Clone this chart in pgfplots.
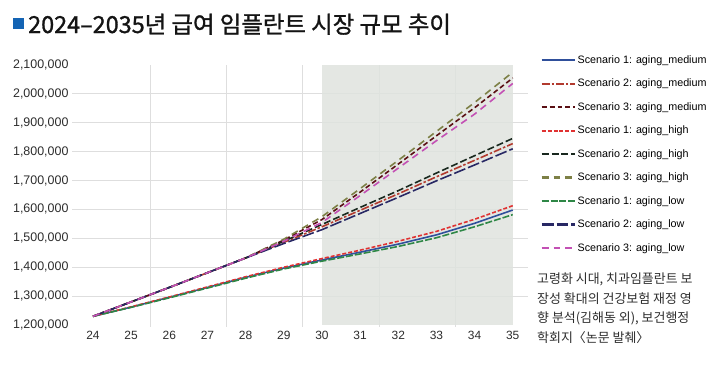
\documentclass[border=0pt]{standalone}
\usepackage{fontspec}
\setmainfont{Liberation Sans}
\newfontfamily\kr{Noto Sans CJK KR}
\newfontfamily\krt{Noto Sans CJK KR}[FakeBold=1.2]
\usepackage{pgfplots}
\pgfplotsset{compat=1.18}
\definecolor{titleblue}{RGB}{20,100,180}
\definecolor{ticktxt}{RGB}{45,45,45}
\definecolor{gridc}{RGB}{222,222,222}
\definecolor{shadec}{RGB}{223,227,222}
\definecolor{cA}{RGB}{47,79,155}
\definecolor{cB}{RGB}{178,58,46}
\definecolor{cC}{RGB}{90,15,20}
\definecolor{cD}{RGB}{224,50,50}
\definecolor{cE}{RGB}{25,40,30}
\definecolor{cF}{RGB}{125,128,70}
\definecolor{cG}{RGB}{46,135,70}
\definecolor{cH}{RGB}{40,40,100}
\definecolor{cI}{RGB}{195,80,180}
\begin{document}
\begin{tikzpicture}[x=1bp,y=1bp]
\useasboundingbox (0,0) rectangle (714,381);
\fill[titleblue] (12.5,352) rectangle (23.5,363);
\node[anchor=base west, inner sep=0, font=\krt\fontsize{23.5}{23.5}\selectfont, text={rgb,255:red,20;green,20;blue,20}] at (28,348) {2024–2035년 급여 임플란트 시장 규모 추이};
\node[anchor=north west, align=left, inner sep=0, text=ticktxt, font=\kr\fontsize{13}{19.5}\selectfont] at (537,108) {고령화 시대, 치과임플란트 보\\장성 확대의 건강보험 재정 영\\향 분석(김해동 외), 보건행정\\학회지〈논문 발췌〉};
\begin{axis}[
  at={(72bp,56bp)}, anchor=south west, scale only axis,
  width=456bp, height=260bp,
  xmin=23.45, xmax=35.4, ymin=1200000, ymax=2100000,
  axis line style={draw=none}, major tick length=0pt,
  scaled y ticks=false, scaled x ticks=false,
  xtick={24,25,26,27,28,29,30,31,32,33,34,35},
  ytick={1200000,1300000,1400000,1500000,1600000,1700000,1800000,1900000,2000000,2100000},
  yticklabels={{1,200,000},{1,300,000},{1,400,000},{1,500,000},{1,600,000},{1,700,000},{1,800,000},{1,900,000},{2,000,000},{2,100,000}},
  xticklabels={24,25,26,27,28,29,30,31,32,33,34,35},
  xticklabel style={font=\fontsize{12}{12}\selectfont, text=ticktxt, yshift=-3bp},
  yticklabel style={font=\fontsize{12.5}{12.5}\selectfont, text=ticktxt},
  legend style={at={(1.027,1.045)}, anchor=north west, draw=none, fill=none,
    font=\fontsize{10.8}{12}\selectfont, row sep=10.2bp, inner sep=0pt},
  legend cell align=left,
  legend image code/.code={\draw[#1, line width=2.1pt] (0bp,0bp) -- (33bp,0bp);},
  every axis plot/.append style={line width=1.6pt},
  clip=false,
]
% grid
\foreach \yy in {1300000,1400000,1500000,1600000,1700000,1800000,1900000,2000000}{
  \edef\tmp{\noexpand\draw[gridc, line width=0.8pt] (axis cs:23.45,\yy) -- (axis cs:35.4,\yy);}\tmp
}
\foreach \xx in {25.5,27.5,29.5,31.5,33.5}{
  \edef\tmp{\noexpand\draw[gridc, line width=0.8pt] (axis cs:\xx,1194000) -- (axis cs:\xx,2100000);}\tmp
}
\fill[shadec, fill opacity=0.85] (axis cs:30,1200000) rectangle (axis cs:35,2100000);
% Scenario 1: aging_medium
\addplot[cA, solid] coordinates {(24,1230000)(25,1262000)(26,1296000)(27,1330000)(28,1365000)(29,1397000)(30,1425000)(31,1452000)(32,1480000)(33,1512000)(34,1552000)(35,1598000)};
\addlegendentry{Scenario 1: aging\_medium}
% Scenario 2: aging_medium
\addplot[cB, dash pattern=on 8pt off 2pt on 2.5pt off 2pt] coordinates {(24,1230000)(25,1280000)(26,1330000)(27,1381000)(28,1432000)(29,1486000)(30,1540000)(31,1597000)(32,1654000)(33,1713000)(34,1770000)(35,1828000)};
\addlegendentry{Scenario 2: aging\_medium}
% Scenario 3: aging_medium
\addplot[cC, dash pattern=on 5pt off 3pt] coordinates {(24,1230000)(25,1280000)(26,1330000)(27,1381000)(28,1432000)(29,1494000)(30,1565000)(31,1660000)(32,1757000)(33,1855000)(34,1952000)(35,2055000)};
\addlegendentry{Scenario 3: aging\_medium}
% Scenario 1: aging_high
\addplot[cD, dash pattern=on 4pt off 2pt] coordinates {(24,1230000)(25,1263000)(26,1297000)(27,1332000)(28,1367000)(29,1400000)(30,1430000)(31,1459000)(32,1490000)(33,1524000)(34,1566000)(35,1613000)};
\addlegendentry{Scenario 1: aging\_high}
% Scenario 2: aging_high
\addplot[cE, dash pattern=on 7pt off 3pt] coordinates {(24,1230000)(25,1280000)(26,1330000)(27,1381000)(28,1432000)(29,1490000)(30,1548000)(31,1607000)(32,1665000)(33,1726000)(34,1786000)(35,1846000)};
\addlegendentry{Scenario 2: aging\_high}
% Scenario 3: aging_high
\addplot[cF, dash pattern=on 7pt off 5pt] coordinates {(24,1230000)(25,1280000)(26,1330000)(27,1381000)(28,1432000)(29,1497000)(30,1575000)(31,1672000)(32,1770000)(33,1870000)(34,1970000)(35,2075000)};
\addlegendentry{Scenario 3: aging\_high}
% Scenario 1: aging_low
\addplot[cG, dash pattern=on 7pt off 2pt] coordinates {(24,1230000)(25,1261000)(26,1294000)(27,1328000)(28,1362000)(29,1394000)(30,1421000)(31,1446000)(32,1472000)(33,1502000)(34,1540000)(35,1582000)};
\addlegendentry{Scenario 1: aging\_low}
% Scenario 2: aging_low
\addplot[cH, dash pattern=on 12pt off 3pt] coordinates {(24,1230000)(25,1280000)(26,1330000)(27,1381000)(28,1432000)(29,1482000)(30,1530000)(31,1586000)(32,1642000)(33,1699000)(34,1754000)(35,1810000)};
\addlegendentry{Scenario 2: aging\_low}
% Scenario 3: aging_low
\addplot[cI, dash pattern=on 7pt off 5pt] coordinates {(24,1230000)(25,1280000)(26,1330000)(27,1381000)(28,1432000)(29,1490000)(30,1555000)(31,1648000)(32,1743000)(33,1838000)(34,1930000)(35,2036000)};
\addlegendentry{Scenario 3: aging\_low}
\end{axis}
\end{tikzpicture}
\end{document}
